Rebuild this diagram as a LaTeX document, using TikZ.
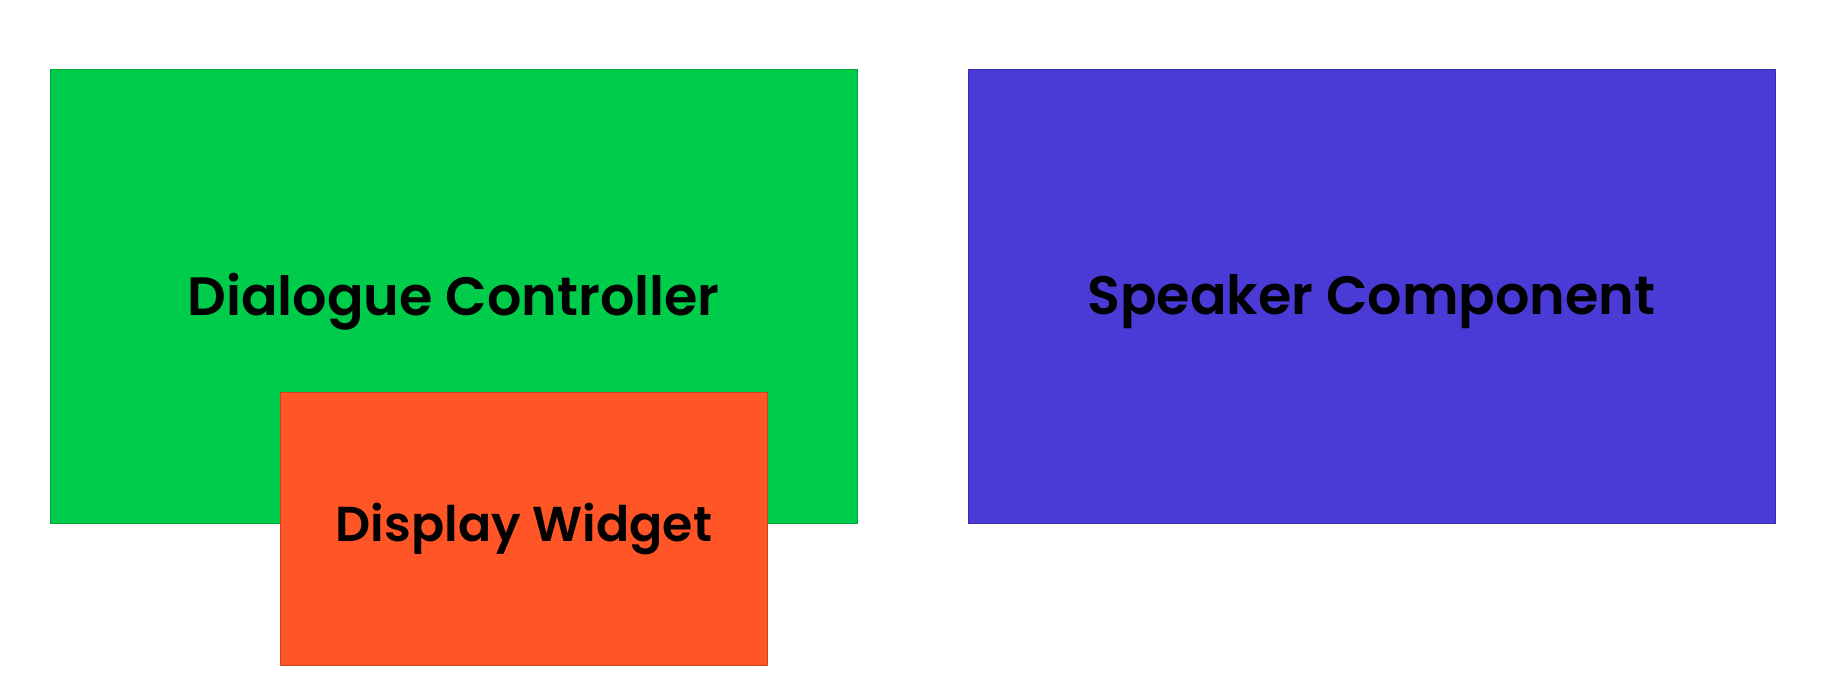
\documentclass[tikz,border=0pt]{standalone}
\usepackage{fontspec}
\setmainfont{Poppins}[UprightFont=* SemiBold]
\definecolor{cgreen}{HTML}{00CC4C}
\definecolor{corange}{HTML}{FF5527}
\definecolor{cblue}{HTML}{4A3BD6}
\begin{document}
\begin{tikzpicture}[x=1pt,y=-1pt,
  box/.style={inner sep=0pt,outer sep=0pt},
  lbl/.style={font=\fontsize{54}{58}\selectfont,text=black},
  lbls/.style={font=\fontsize{49}{53}\selectfont,text=black}]
\useasboundingbox[fill=white] (0,0) rectangle (1825,688);
\path[fill=cgreen,draw=cgreen!80!black,line width=0.6pt] (50,69) rectangle (857,523.5);
\path[fill=cblue,draw=cblue!80!black,line width=0.6pt] (968,69) rectangle (1775.5,523.5);
\path[fill=corange,draw=corange!80!black,line width=0.6pt] (280.5,392.5) rectangle (767.5,665.5);
\node[lbl] (dct) at (453.5,302) {Dialogue Controller};
\node[lbl] (sct) at (1371.5,302) {Speaker Component};
\node[lbls] (dwt) at (524,529) {Display Widget};
\end{tikzpicture}
\end{document}
